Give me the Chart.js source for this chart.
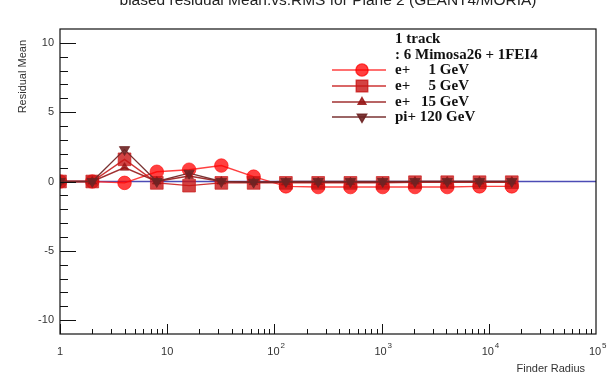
<!DOCTYPE html>
<html>
<head>
<meta charset="utf-8">
<script src="https://cdn.jsdelivr.net/npm/chart.js@4.4.1/dist/chart.umd.min.js"></script>
<style>
  html, body { margin: 0; padding: 0; background: #fff; }
  #wrap { width: 608px; height: 377px; position: relative; }
</style>
</head>
<body>
<div id="wrap"><canvas id="c" width="608" height="377"></canvas></div>
<script>
// Finder radius values (x) and the mean residual for each beam setting
const finderRadius = [1, 2, 4, 8, 16, 32, 64, 128, 256, 512, 1024, 2048, 4096, 8192, 16384];
const ePlus1GeV   = [0, 0, -0.1, 0.7, 0.85, 1.15, 0.35, -0.35, -0.4, -0.4, -0.4, -0.4, -0.4, -0.35, -0.35];
const ePlus5GeV   = [0, 0, 1.6, -0.1, -0.3, -0.1, -0.1, -0.1, -0.1, -0.1, -0.1, -0.05, -0.05, -0.05, -0.05];
const ePlus15GeV  = [0, 0, 1.0, 0, 0.4, 0, -0.05, -0.05, -0.05, -0.05, -0.05, 0, 0, 0, 0];
const piPlus120GeV = [0, 0, 2.3, 0, 0.6, 0, -0.05, 0, 0, 0, 0, 0, 0, 0, 0];
const seriesParticle = ["e+", "e+", "e+", "pi+"];
const seriesEnergy = ["1 GeV", "5 GeV", "15 GeV", "120 GeV"];
const headerLines = ["1 track", ": 6 Mimosa26 + 1FEI4"];
const yTicks = [-10, -5, 0, 5, 10];
const xDecades = [0, 1, 2, 3, 4, 5];

const pts = vals => finderRadius.map((r, i) => ({ x: r, y: vals[i] }));

const styles = [
  { line: 'rgba(255,30,30,0.85)', fill: 'rgba(255,0,0,0.75)', shape: 'circle', radius: 6.8, rot: 0 },
  { line: 'rgba(200,30,30,0.9)', fill: 'rgba(200,20,20,0.8)', shape: 'rect', radius: 9, rot: 0 },
  { line: 'rgba(150,25,25,0.9)', fill: 'rgba(150,20,20,0.85)', shape: 'triangle', radius: 5, rot: 0 },
  { line: 'rgba(115,40,40,0.95)', fill: 'rgba(110,35,35,0.9)', shape: 'triangle', radius: 6, rot: 180 }
];
const seriesData = [ePlus1GeV, ePlus5GeV, ePlus15GeV, piPlus120GeV];

const datasets = seriesData.map((vals, i) => ({
  label: seriesParticle[i] + ' ' + seriesEnergy[i],
  data: pts(vals),
  borderColor: styles[i].line,
  backgroundColor: styles[i].fill,
  borderWidth: 1.4,
  pointStyle: styles[i].shape,
  pointRadius: styles[i].radius,
  pointRotation: styles[i].rot,
  pointBorderWidth: 0.8,
  pointBorderColor: styles[i].fill,
  tension: 0,
  order: 4 - i
}));
// reference line at zero residual
datasets.push({
  label: 'zero',
  data: [{ x: 1, y: 0 }, { x: 100000, y: 0 }],
  borderColor: '#4b4bb5',
  borderWidth: 1.5,
  pointRadius: 0,
  order: 10
});

const SANS = '"Liberation Sans", Arial, sans-serif';
const SERIF = '"Liberation Serif", "Times New Roman", serif';

const decor = {
  id: 'decor',
  afterDraw(chart) {
    const ctx = chart.ctx;
    const a = chart.chartArea;
    const xs = chart.scales.x, ys = chart.scales.y;
    ctx.save();
    // frame
    ctx.strokeStyle = '#111';
    ctx.lineWidth = 1.2;
    ctx.strokeRect(a.left, a.top, a.right - a.left, a.bottom - a.top);

    // y ticks (inside, from left axis)
    ctx.lineWidth = 1;
    for (let v = -10; v <= 10; v++) {
      const py = Math.round(ys.getPixelForValue(v)) + 0.5;
      const len = (v % 5 === 0) ? 16 : 8;
      ctx.beginPath(); ctx.moveTo(a.left, py); ctx.lineTo(a.left + len, py); ctx.stroke();
    }
    // x ticks (inside, from bottom axis)
    for (let d = 0; d < 5; d++) {
      for (let m = 1; m <= 9; m++) {
        const val = m * Math.pow(10, d);
        const px = Math.round(xs.getPixelForValue(val)) + 0.5;
        const len = (m === 1) ? 10 : 5;
        ctx.beginPath(); ctx.moveTo(px, a.bottom); ctx.lineTo(px, a.bottom - len); ctx.stroke();
      }
    }

    // y tick labels
    ctx.fillStyle = '#333';
    ctx.font = '11px ' + SANS;
    ctx.textAlign = 'right';
    ctx.textBaseline = 'middle';
    yTicks.forEach(v => ctx.fillText(String(v), a.left - 6, ys.getPixelForValue(v)));

    // x tick labels (powers of ten)
    ctx.textBaseline = 'alphabetic';
    xDecades.forEach(d => {
      const px = xs.getPixelForValue(Math.pow(10, d));
      ctx.font = '11px ' + SANS;
      ctx.textAlign = 'center';
      if (d === 0) { ctx.fillText('1', px, 355); return; }
      if (d === 1) { ctx.fillText('10', px, 355); return; }
      ctx.fillText('10', px - 1, 355);
      ctx.font = '8px ' + SANS;
      ctx.textAlign = 'left';
      ctx.fillText(String(d), px + 6, 348);
    });

    // axis titles
    ctx.font = '11px ' + SANS;
    ctx.textAlign = 'right';
    ctx.fillText('Finder Radius', 585, 372);
    ctx.save();
    ctx.translate(26, 40);
    ctx.rotate(-Math.PI / 2);
    ctx.textAlign = 'right';
    ctx.textBaseline = 'alphabetic';
    ctx.fillText('Residual Mean', 0, 0);
    ctx.restore();

    // plot title (partly above the canvas edge)
    ctx.font = '15.5px ' + SANS;
    ctx.textAlign = 'center';
    ctx.fillStyle = '#222';
    ctx.fillText('biased residual Mean.vs.RMS for Plane 2 (GEANT4/MORIA)', 328, 5);

    // legend
    ctx.fillStyle = '#111';
    ctx.font = 'bold 15px ' + SERIF;
    ctx.textAlign = 'left';
    ctx.textBaseline = 'middle';
    ctx.fillText(headerLines[0], 395, 39);
    ctx.fillText(headerLines[1], 395, 55);
    const rowY = [70, 86, 102, 117];
    seriesParticle.forEach((p, i) => {
      const y = rowY[i];
      const s = styles[i];
      ctx.strokeStyle = s.line;
      ctx.lineWidth = 1.4;
      ctx.beginPath(); ctx.moveTo(332, y); ctx.lineTo(386, y); ctx.stroke();
      ctx.fillStyle = s.fill;
      ctx.strokeStyle = s.fill;
      Chart.helpers.drawPoint(ctx, { pointStyle: s.shape, radius: s.radius * 0.9, rotation: s.rot, borderWidth: 0.8 }, 362, y);
      ctx.fillStyle = '#111';
      ctx.textAlign = 'left';
      if (p === 'e+') {
        ctx.fillText(p, 395, y);
        ctx.textAlign = 'right';
        ctx.fillText(seriesEnergy[i], 469, y);
      } else {
        ctx.fillText(p + ' ' + seriesEnergy[i], 395, y);
      }
    });
    ctx.restore();
  }
};

new Chart(document.getElementById('c'), {
  type: 'line',
  data: { datasets },
  options: {
    responsive: false,
    animation: false,
    devicePixelRatio: 1,
    layout: { padding: { left: 60, right: 12, top: 29, bottom: 43 } },
    plugins: { legend: { display: false }, tooltip: { enabled: false }, title: { display: false } },
    scales: {
      x: {
        type: 'logarithmic', min: 1, max: 100000,
        grid: { display: false, drawTicks: false, tickLength: 0 }, border: { display: false },
        ticks: { display: false, padding: 0 }
      },
      y: {
        type: 'linear', min: -11, max: 11,
        grid: { display: false, drawTicks: false, tickLength: 0 }, border: { display: false },
        ticks: { display: false, padding: 0 }
      }
    }
  },
  plugins: [decor]
});
</script>
</body>
</html>
